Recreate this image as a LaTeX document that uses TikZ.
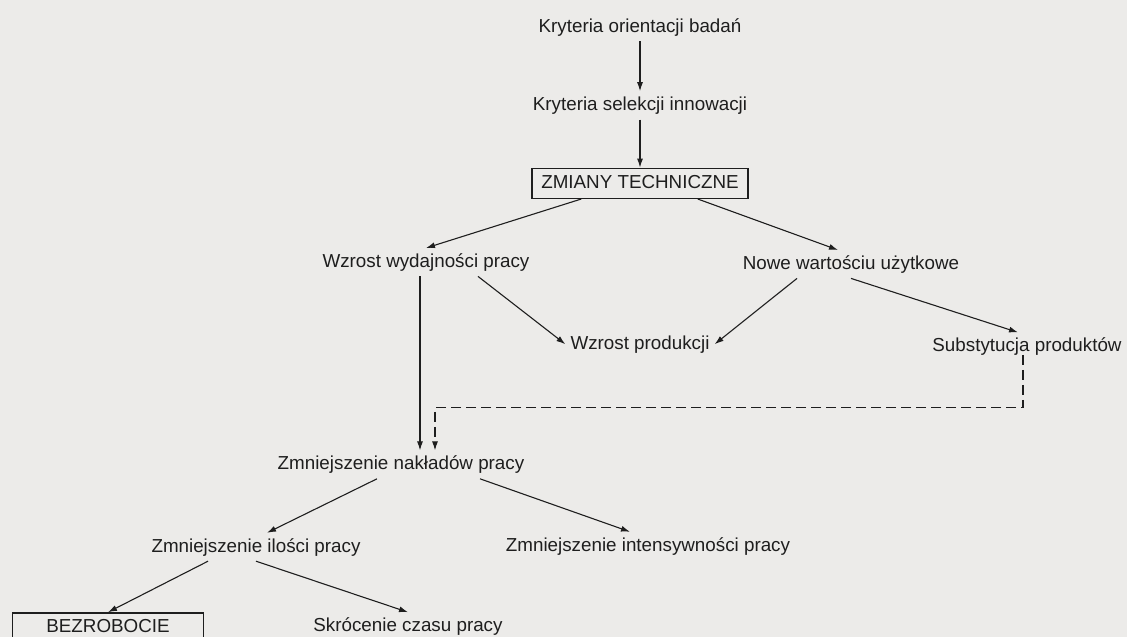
\documentclass[tikz,border=0pt]{standalone}
\usepackage{fontspec}
\setmainfont{Liberation Sans}
\usepackage{xcolor}
\usepackage{tikz}
\usetikzlibrary{arrows.meta,positioning,calc}
\definecolor{pagebg}{HTML}{ECEBE9}
\definecolor{ink}{HTML}{1E1E1E}

\begin{document}
\begin{tikzpicture}[font=\fontsize{18.8pt}{22pt}\selectfont,node distance=50pt]
  \tikzstyle{lbl}=[inner sep=5pt,text height=14pt,text depth=4pt,text=ink]
  \tikzstyle{bx}=[lbl,draw=ink,line width=1.4pt,minimum height=30pt]
  \tikzstyle{ar}=[draw=ink,line width=1.1pt,-{Latex[length=9pt,width=6pt]}]
  \path[use as bounding box,fill=pagebg] (0,0) rectangle (1127pt,-637pt);
  \node[lbl] (kob) at (640pt,-27pt) {Kryteria orientacji badań};
  \node[lbl,below=50pt of kob] (ksi) {Kryteria selekcji innowacji};
  \node[bx,minimum width=216pt,below=48pt of ksi] (zt) {ZMIANY TECHNICZNE};
  \node[lbl,below=49pt of zt,xshift=-214pt] (wwp) {Wzrost wydajności pracy};
  \node[lbl,below=51pt of zt,xshift=211pt] (nwu) {Nowe wartościu użytkowe};
  \node[lbl,below=131pt of zt] (wp) {Wzrost produkcji};
  \node[lbl,below=54pt of nwu,xshift=176pt] (sp) {Substytucja produktów};
  \node[lbl,below=174pt of wwp,xshift=-25pt] (znp) {Zmniejszenie nakładów pracy};
  \node[lbl,below=54pt of znp,xshift=-145pt] (zip) {Zmniejszenie ilości pracy};
  \node[lbl,below=53pt of znp,xshift=247pt] (zin) {Zmniejszenie intensywności pracy};
  \node[bx,minimum width=191pt,minimum height=30pt,below=51pt of zip,xshift=-148pt] (bez) {BEZROBOCIE};
  \node[lbl,below=51pt of zip,xshift=152pt] (skr) {Skrócenie czasu pracy};
  \draw[ar] (kob) -- (ksi);
  \draw[ar] (ksi) -- (zt);
  \draw[ar] ([xshift=50pt]zt.south west) -- (wwp.north);
  \draw[ar] ([xshift=-51pt]zt.south east) -- ([xshift=-13pt]nwu.north);
  \draw[ar] ([xshift=52pt]wwp.south) -- (wp.west);
  \draw[ar] ([xshift=-54pt]nwu.south) -- (wp.east);
  \draw[ar] (nwu.south) -- ([xshift=-9pt]sp.north);
  \coordinate (ws) at ([xshift=-6pt]wwp.south);
  \draw[ar] (ws) -- (ws |- znp.north);
  % dashed return line from the substitution branch
  \coordinate (dz) at ([xshift=34pt]znp.north);
  \coordinate (dt) at ([xshift=-4pt,yshift=-47pt]sp.south);
  \draw[ar,dash pattern=on 10pt off 5pt] ([xshift=-4pt,yshift=6pt]sp.south) -- (dt) -| (dz);
  \draw[ar] ([xshift=-24pt]znp.south) -- ([xshift=11pt]zip.north);
  \draw[ar] ([xshift=79pt]znp.south) -- ([xshift=-18pt]zin.north);
  \draw[ar] ([xshift=-48pt]zip.south) -- (bez.north);
  \draw[ar] (zip.south) -- (skr.north);
\end{tikzpicture}
\end{document}
